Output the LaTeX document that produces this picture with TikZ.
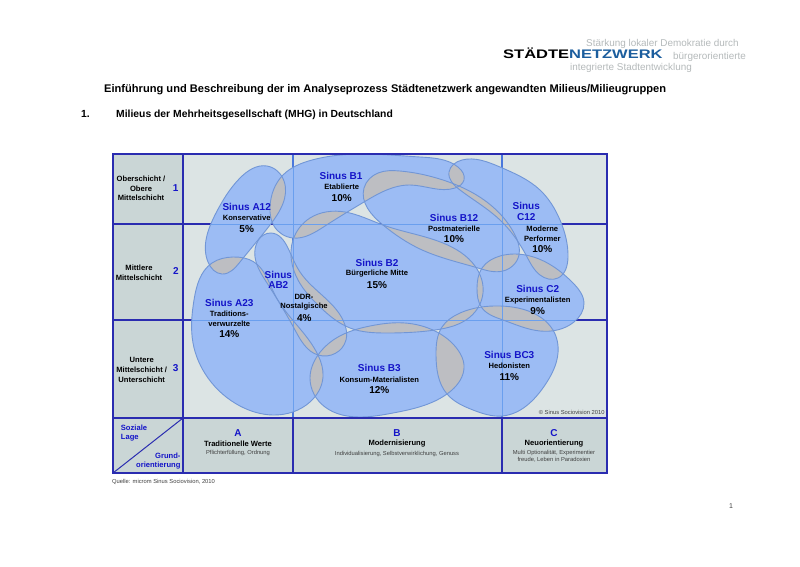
\documentclass[tikz,border=0pt]{standalone}
\usepackage{fontspec}
\setmainfont{Liberation Sans}
\usetikzlibrary{hobby}
\definecolor{chartbg}{HTML}{DCE4E4}
\definecolor{cellbg}{HTML}{CAD6D6}
\definecolor{blobfill}{HTML}{9CBCF4}
\definecolor{blobedge}{HTML}{7196D6}
\definecolor{lensgrey}{HTML}{BDBEC2}
\definecolor{framelc}{HTML}{2A2CB0}
\definecolor{gridlc}{HTML}{4A78DC}
\definecolor{insidelc}{HTML}{6A9FEE}
\definecolor{bluetxt}{HTML}{1414C8}
\definecolor{logoblue}{HTML}{1C5E9E}
\definecolor{logogrey}{HTML}{B5BABB}
\tikzset{
  heading/.style={font=\fontsize{11.1}{14}\bfseries\selectfont,inner sep=0pt,anchor=west},
  milieu/.style={font=\fontsize{10}{10.6}\bfseries\selectfont,text=bluetxt,inner sep=0pt,align=center},
  descr/.style={font=\fontsize{7.6}{9.6}\bfseries\selectfont,inner sep=0pt,align=center},
  pct/.style={font=\fontsize{10}{12}\bfseries\selectfont,inner sep=0pt},
  small/.style={font=\fontsize{5.8}{7}\selectfont,inner sep=0pt,align=center,text=black!75},
  slogan/.style={font=\fontsize{9.9}{10}\selectfont,text=logogrey,inner sep=0pt},
  rowno/.style={font=\fontsize{10}{12}\bfseries\selectfont,text=bluetxt,inner sep=0pt},
  blob/.style={fill=blobfill},
  blobline/.style={draw=blobedge,line width=0.9pt},
  frameline/.style={draw=framelc,line width=1.2pt},
}
\newcommand{\blobAi}{plot[closed hobby] coordinates {(267,166)(284,181)(270,225)(240,262)(222,274)(208,262)(216,213)(240,178)}}
\newcommand{\blobAii}{plot[closed hobby] coordinates {(212,263)(233,257)(254,262)(275,295)(318,355)(323,377)(310,402)(273,415)(240,406)(208,378)(193,343)(194,300)}}
\newcommand{\blobAB}{plot[closed hobby] coordinates {(271,233)(288,248)(300,272)(345,325)(346,340)(318,355)(295,330)(267,283)(255,257)}}
\newcommand{\blobBi}{plot[closed hobby] coordinates {(270,207)(283,175)(312,160)(360,154)(420,157)(458,167)(464,180)(455,188)(410,185)(364,202)(325,226)(293,238)(274,226)}}
\newcommand{\blobBC}{plot[closed hobby] coordinates {(364,188)(378,173)(400,171)(443,180)(493,207)(515,235)(519,255)(503,271)(478,268)(420,249)(383,225)}}
\newcommand{\blobCi}{plot[closed hobby] coordinates {(449,172)(462,160)(500,167)(540,190)(560,220)(568,257)(558,278)(540,275)(526,255)(500,220)(460,190)}}
\newcommand{\blobBii}{plot[closed hobby] coordinates {(293,240)(310,218)(345,212)(383,225)(443,243)(475,266)(483,293)(470,317)(435,330)(387,333)(350,328)(320,307)(298,280)}}
\newcommand{\blobCii}{plot[closed hobby] coordinates {(482,268)(500,256)(530,256)(573,283)(584,303)(574,322)(540,331)(503,320)(482,308)(477,288)}}
\newcommand{\blobBiii}{plot[closed hobby] coordinates {(318,355)(338,337)(370,326)(405,323)(435,331)(458,350)(464,365)(447,394)(393,413)(360,417)(325,407)(310,378)}}
\newcommand{\blobBCiii}{plot[closed hobby] coordinates {(442,327)(460,313)(500,306)(537,315)(553,330)(558,353)(545,385)(502,416)(473,410)(447,394)(436,355)}}
\begin{document}
\begin{tikzpicture}[x=1pt,y=-1pt]
\useasboundingbox (0,0) rectangle (800,566);
\fill[white] (0,0) rectangle (800,566);

% logo and headings
\node[inner sep=0pt,anchor=west] (logo) at (503,53.5) {\scalebox{1.33}[1]{\fontsize{12.4}{14}\bfseries\selectfont STÄDTE\textcolor{logoblue}{NETZWERK}}};
\node[slogan,anchor=west] (slogan1) at (586,44) {Stärkung lokaler Demokratie durch};
\node[slogan,anchor=west] (slogan2) at (673,57) {bürgerorientierte};
\node[slogan,anchor=west] (slogan3) at (570,67.5) {integrierte Stadtentwicklung};
\node[heading] (title) at (104,89.5) {Einführung und Beschreibung der im Analyseprozess Städtenetzwerk angewandten Milieus/Milieugruppen};
\node[heading,font=\fontsize{10.35}{12}\bfseries\selectfont] (secno) at (81,114) {1.};
\node[heading,font=\fontsize{10.35}{12}\bfseries\selectfont] (section) at (116,114.5) {Milieus der Mehrheitsgesellschaft (MHG) in Deutschland};

% chart background
\fill[chartbg] (183,154) rectangle (607,418);
\fill[cellbg] (113,154) rectangle (183,473);
\fill[cellbg] (183,418) rectangle (607,473);
\draw[frameline] (113,224) -- (607,224);
\draw[frameline] (113,320) -- (607,320);
\draw[gridlc,line width=1.2pt] (293,154) -- (293,418);
\draw[gridlc,line width=1.2pt] (502,154) -- (502,418);

% milieus
\foreach \b in {\blobAi,\blobAii,\blobAB,\blobBi,\blobBC,\blobCi,\blobBii,\blobCii,\blobBiii,\blobBCiii}
  \fill[blob] \b;
\foreach \b/\c in {\blobAi/\blobBi,\blobAi/\blobAii,\blobAii/\blobAB,\blobAii/\blobBiii,\blobAB/\blobBii,\blobAB/\blobBiii,\blobBi/\blobBii,\blobBi/\blobBC,\blobBi/\blobCi,\blobBC/\blobBii,\blobBC/\blobCi,\blobBC/\blobCii,\blobBii/\blobCii,\blobBii/\blobBiii,\blobBii/\blobBCiii,\blobBiii/\blobBCiii,\blobCii/\blobBCiii,\blobCii/\blobCi}
  {\begin{scope}
   \clip \b;
   \fill[lensgrey] \c;
   \end{scope}}
\foreach \b in {\blobAi,\blobAii,\blobAB,\blobBi,\blobBC,\blobCi,\blobBii,\blobCii,\blobBiii,\blobBCiii}
  {\begin{scope}
   \clip \b;
   \draw[insidelc,line width=1pt] (183,224) -- (607,224);
   \draw[insidelc,line width=1pt] (183,320) -- (607,320);
   \draw[insidelc,line width=1pt] (293,154) -- (293,418);
   \draw[insidelc,line width=1pt] (502,154) -- (502,418);
   \end{scope}}
\foreach \b in {\blobAi,\blobAii,\blobAB,\blobBi,\blobBC,\blobCi,\blobBii,\blobCii,\blobBiii,\blobBCiii}
  \draw[blobline] \b;

% frame
\draw[frameline] (113,154) rectangle (607,473);
\draw[frameline] (183,154) -- (183,473);
\draw[frameline] (113,418) -- (607,418);
\draw[frameline] (293,418) -- (293,473);
\draw[frameline] (502,418) -- (502,473);
\draw[framelc,line width=1pt] (113,473) -- (183,418);

% row labels
\node[descr] (row1) at (141,188.5) {Oberschicht /\\Obere\\Mittelschicht};
\node[rowno] (no1) at (175.7,187.7) {1};
\node[descr] (row2) at (139,272.7) {Mittlere\\Mittelschicht};
\node[rowno] (no2) at (176,270.7) {2};
\node[descr] (row3) at (141.7,370) {Untere\\Mittelschicht /\\Unterschicht};
\node[rowno] (no3) at (175.7,367.7) {3};
\node[descr,text=bluetxt,align=left,anchor=west] (lage) at (120.7,433) {Soziale\\Lage};
\node[descr,text=bluetxt,align=right,anchor=east] (grund) at (180.7,461) {Grund-\\orientierung};

% column labels
\node[milieu] (colA) at (238,432.7) {A};
\node[descr] (colAt) at (238,444) {Traditionelle Werte};
\node[small] (colAs) at (238,453.3) {Pflichterfüllung, Ordnung};
\node[milieu] (colB) at (397,432.7) {B};
\node[descr] (colBt) at (397,444) {Modernisierung};
\node[small] (colBs) at (397,453.5) {Individualisierung, Selbstverwirklichung, Genuss};
\node[milieu] (colC) at (554,432.7) {C};
\node[descr] (colCt) at (554,444) {Neuorientierung};
\node[small] (colCs) at (554,456.5) {Multi Optionalität, Experimentier\\freude, Leben in Paradoxien};

% milieu labels
\node[milieu] (a12) at (246.7,207.3) {Sinus A12};
\node[descr] (a12d) at (246.7,217.7) {Konservative};
\node[pct] (a12p) at (246.7,229.3) {5\%};
\node[milieu] (b1) at (341,175.7) {Sinus B1};
\node[descr] (b1d) at (341.7,186.7) {Etablierte};
\node[pct] (b1p) at (341.7,197.7) {10\%};
\node[milieu] (ab2) at (278.3,279.7) {Sinus\\AB2};
\node[descr] (ab2d) at (304,302.3) {DDR-\\Nostalgische};
\node[pct] (ab2p) at (304.3,318.3) {4\%};
\node[milieu] (a23) at (229.3,303.3) {Sinus A23};
\node[descr] (a23d) at (229.3,319) {Traditions-\\verwurzelte};
\node[pct] (a23p) at (229.3,334.3) {14\%};
\node[milieu] (b2) at (377,263) {Sinus B2};
\node[descr] (b2d) at (377,274) {Bürgerliche Mitte};
\node[pct] (b2p) at (377,285) {15\%};
\node[milieu] (b12) at (454,217.7) {Sinus B12};
\node[descr] (b12d) at (454,228.7) {Postmaterielle};
\node[pct] (b12p) at (454,239.3) {10\%};
\node[milieu] (c12) at (526.2,211.2) {Sinus\\C12};
\node[descr] (c12d) at (542.3,234) {Moderne\\Performer};
\node[pct] (c12p) at (542.3,249.3) {10\%};
\node[milieu] (c2) at (537.7,289.3) {Sinus C2};
\node[descr] (c2d) at (537.7,300.3) {Experimentalisten};
\node[pct] (c2p) at (537.7,311) {9\%};
\node[milieu] (b3) at (379.3,368.3) {Sinus B3};
\node[descr] (b3d) at (379.3,379.3) {Konsum-Materialisten};
\node[pct] (b3p) at (379.3,390) {12\%};
\node[milieu] (bc3) at (509.3,354.7) {Sinus BC3};
\node[descr] (bc3d) at (509.3,365.7) {Hedonisten};
\node[pct] (bc3p) at (509.3,376.7) {11\%};

\node[small] (rights) at (571.7,412.7) {© Sinus Sociovision 2010};
\node[small,anchor=west] (quelle) at (112,482) {Quelle: microm Sinus Sociovision, 2010};
\node[small,font=\fontsize{7}{8}\selectfont] (page) at (731,506) {1};
\end{tikzpicture}
\end{document}
